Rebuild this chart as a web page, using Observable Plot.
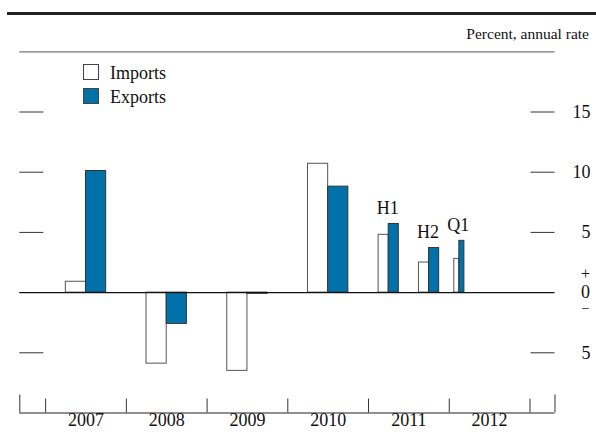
<!DOCTYPE html>
<html>
<head>
<meta charset="utf-8">
<script src="https://cdn.jsdelivr.net/npm/d3@7"></script>
<script src="https://cdn.jsdelivr.net/npm/@observablehq/plot@0.6"></script>
<style>
  html, body { margin: 0; padding: 0; background: #fff; }
  #wrap { position: relative; width: 596px; height: 437px; font-family: "Liberation Serif", serif; color: #111; }
  #topline { position: absolute; left: 7px; top: 12px; width: 589px; height: 0; border-top: 3px solid #222; }
  #unit { position: absolute; right: 7px; top: 25px; font-size: 15.5px; white-space: nowrap; }
  .leg { position: absolute; left: 83px; font-size: 18px; white-space: nowrap; }
  .leg span.box { display: inline-block; width: 14px; height: 14px; border: 1px solid #444; vertical-align: -1px; margin-right: 11px; }
  #chart { position: absolute; left: 0; top: 0; }
</style>
</head>
<body>
<div id="wrap">
  <div id="chart"></div>
  <div id="topline"></div>
  <div id="unit">Percent, annual rate</div>
  <div class="leg" style="top:63px"><span class="box" style="background:#fff"></span>Imports</div>
  <div class="leg" style="top:87px"><span class="box" style="background:#0072a9"></span>Exports</div>
</div>
<script>
// ---- data ----
const periods      = ["2007", "2008", "2009", "2010", "2011 H1", "2011 H2", "2012 Q1"];
const periodStart  = [2007, 2008, 2009, 2010, 2011, 2011.5, 2012];
const periodLength = [1, 1, 1, 1, 0.5, 0.5, 0.25];
const imports      = [0.9, -5.9, -6.5, 10.7, 4.8, 2.5, 2.8];
const exports      = [10.1, -2.6, -0.1, 8.8, 5.7, 3.7, 4.3];
const subLabels    = ["", "", "", "", "H1", "H2", "Q1"];
const yearTicks    = [2007, 2008, 2009, 2010, 2011, 2012, 2013];
const yearLabels   = ["2007", "2008", "2009", "2010", "2011", "2012"];
const yTickValues  = [15, 10, 5, -5];
const yTickLabels  = ["15", "10", "5", "5"];
const xDomain      = [2006.68, 2013.31];
const yDomain      = [-10, 20];

const importColor = "#ffffff";
const exportColor = "#0072a9";

// ---- layout ----
const W = 596, H = 437;
const mL = 19.3, mR = 41.5, mT = 51.3, mB = 24.5;
const frameW = W - mL - mR, frameH = H - mT - mB;

const rows = periods.map((p, i) => {
  const mid = periodStart[i] + periodLength[i] / 2;
  const w = periodLength[i] / 4;
  return {p, mid, w, imp: imports[i], exp: exports[i], label: subLabels[i]};
});
const bars = rows.flatMap(r => [
  {p: r.p, series: "Imports", x1: r.mid - r.w, x2: r.mid, v: r.imp},
  {p: r.p, series: "Exports", x1: r.mid, x2: r.mid + r.w, v: r.exp}
]);
const yearLabelData = yearLabels.map(y => ({x: +y + 0.5, t: y}));
const yLabelData = yTickValues.map((v, i) => ({v, t: yTickLabels[i]}));

const chart = Plot.plot({
  width: W, height: H,
  marginLeft: mL, marginRight: mR, marginTop: mT, marginBottom: mB,
  x: {domain: xDomain, axis: null},
  y: {domain: yDomain, axis: null},
  color: {domain: ["Imports", "Exports"], range: [importColor, exportColor]},
  style: {fontFamily: "'Liberation Serif', serif", fontSize: "18px", color: "#111", background: "#fff"},
  marks: [
    Plot.ruleY([yDomain[1]], {stroke: "#777", strokeWidth: 1.3}),
    Plot.ruleY([yDomain[0]], {stroke: "#222", strokeWidth: 1.2}),
    Plot.ruleY(yTickValues, {y: d => d, stroke: "#333", insetRight: frameW - 24}),
    Plot.ruleY(yTickValues, {y: d => d, stroke: "#333", insetLeft: frameW - 24}),
    Plot.rectY(bars, {x1: "x1", x2: "x2", y1: 0, y2: "v", fill: "series",
      stroke: d => d.series === "Imports" ? "#555" : "#333", strokeWidth: 1}),
    Plot.ruleY([0], {stroke: "#111", strokeWidth: 1.2}),
    Plot.ruleX(yearTicks, {x: d => d, stroke: "#333", insetTop: frameH - 14}),
    Plot.ruleX(xDomain, {x: d => d, stroke: "#333", insetTop: frameH - 18}),
    Plot.text(yearLabelData, {x: "x", y: yDomain[0], text: "t", lineAnchor: "top", dy: 0, fill: "#111"}),
    Plot.text(rows.filter(r => r.label), {x: "mid", y: r => Math.max(r.imp, r.exp), text: "label",
      lineAnchor: "bottom", dy: -10, dx: -1, fill: "#111"}),
    Plot.text(yLabelData, {y: "v", text: "t", frameAnchor: "right", dx: 35.5, textAnchor: "end", fill: "#111"}),
    Plot.text(["0"], {y: 0, text: d => d, frameAnchor: "right", dx: 30.5, textAnchor: "middle", fill: "#111"}),
    Plot.text(["+"], {y: 0, text: d => d, frameAnchor: "right", dx: 30.5, dy: -19, textAnchor: "middle", fill: "#111", fontSize: 16}),
    Plot.text(["\u2212"], {y: 0, text: d => d, frameAnchor: "right", dx: 30.5, dy: 16, textAnchor: "middle", fill: "#111", fontSize: 14})
  ]
});
document.getElementById("chart").appendChild(chart);
</script>
</body>
</html>
